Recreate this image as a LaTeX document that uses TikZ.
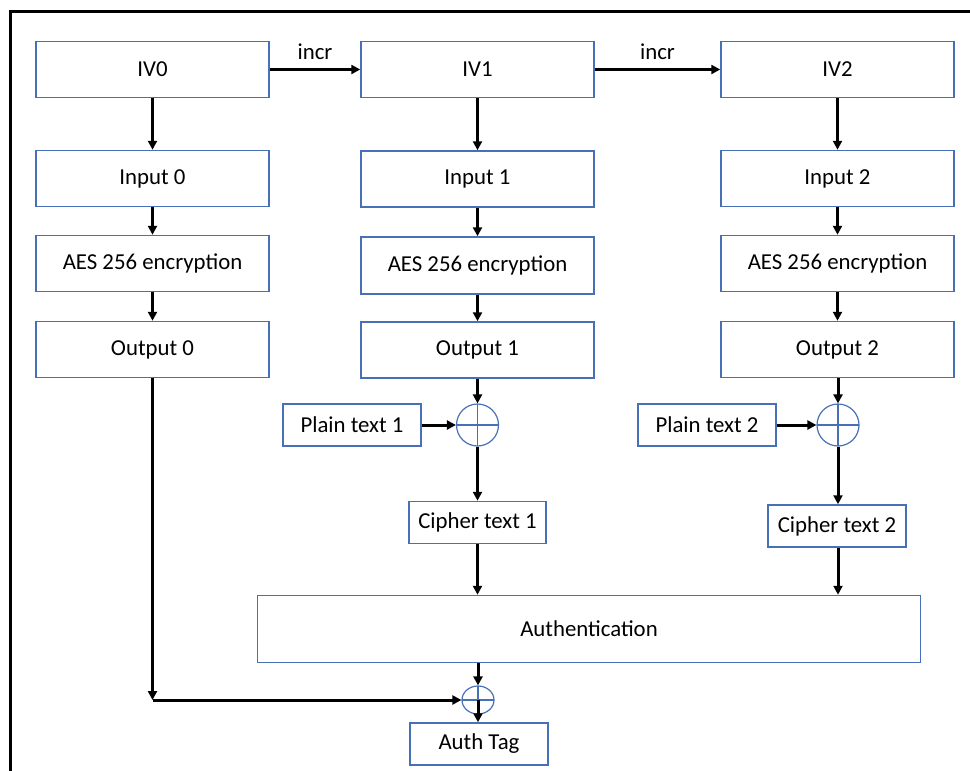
\documentclass[tikz,border=0pt]{standalone}
\usepackage{fontspec}
\setmainfont{Carlito}
\usepackage{tikz}
\usetikzlibrary{shapes.geometric}
\usetikzlibrary{arrows.meta}
\definecolor{boxblue}{RGB}{72,112,184}

\begin{document}
\begin{tikzpicture}[x=0.5pt,y=-0.5pt,
	blk/.style={draw=boxblue,line width=0.75pt,minimum width=116.5pt,minimum height=28pt,inner sep=0pt,font=\fontsize{11.4}{13}\selectfont},
	txt/.style={blk,minimum width=69pt,minimum height=21pt},
	xorc/.style={circle,draw=boxblue,line width=0.6pt,minimum size=21pt,inner sep=0pt,
		path picture={\draw[boxblue,line width=0.6pt] (path picture bounding box.north) -- (path picture bounding box.south) (path picture bounding box.west) -- (path picture bounding box.east);}},
	flow/.style={-{Triangle[length=4.5pt,width=4.5pt]},line width=1.5pt}]
	\useasboundingbox (0,0) rectangle (970,771);
	\draw[line width=1.5pt] (10,771) |- (970,11);

	\node [blk] (iv0) at (152.5,69.5) {IV0};
	\node [blk] (in0) at (152.5,178.5) {Input 0};
	\node [blk] (aes0) at (152.5,263.5) {AES 256 encryption};
	\node [blk] (out0) at (152.5,349.5) {Output 0};

	\node [blk] (iv1) at (477.5,69.5) {IV1};
	\node [blk] (in1) at (477.5,179) {Input 1};
	\node [blk,minimum height=28.5pt] (aes1) at (477.5,265.5) {AES 256 encryption};
	\node [blk] (out1) at (477.5,350) {Output 1};

	\node [blk] (iv2) at (837.5,69.5) {IV2};
	\node [blk] (in2) at (837.5,178.5) {Input 2};
	\node [blk] (aes2) at (837.5,263.5) {AES 256 encryption};
	\node [blk] (out2) at (837.5,349.5) {Output 2};

	\node [txt] (plain1) at (352,425) {Plain text 1};
	\node [xorc] (xor1) at (477.5,425) {};
	\node [txt,minimum width=68.5pt] (cipher1) at (477.5,522.5) {Cipher text 1};

	\node [txt] (plain2) at (707,425) {Plain text 2};
	\node [xorc] (xor2) at (838,425) {};
	\node [txt] (cipher2) at (837,526) {Cipher text 2};

	\node [blk,minimum width=331.5pt,minimum height=33.5pt] (auth) at (589,629) {Authentication};
	\node [xorc,ellipse,minimum width=16pt,minimum height=14pt] (xor3) at (478,700) {};
	\node [txt] (tag) at (479,744) {Auth Tag};
	\coordinate (bend) at (152.5,700);

	\draw [flow] (iv0) -- node [above=1pt,font=\fontsize{11.4}{13}\selectfont] {incr} (iv1);
	\draw [flow] (iv1) -- node [above=1pt,font=\fontsize{11.4}{13}\selectfont] {incr} (iv2);
	\draw [flow] (iv0) -- (in0);
	\draw [flow] (in0) -- (aes0);
	\draw [flow] (aes0) -- (out0);
	\draw [flow] (iv1) -- (in1);
	\draw [flow] (in1) -- (aes1);
	\draw [flow] (aes1) -- (out1);
	\draw [flow] (iv2) -- (in2);
	\draw [flow] (in2) -- (aes2);
	\draw [flow] (aes2) -- (out2);

	\draw [flow] (out1.south -| xor1) -- (xor1);
	\draw [flow] (plain1) -- (xor1);
	\draw [flow] (xor1) -- (cipher1.north -| xor1);
	\draw [flow] (cipher1.south -| xor1) -- (auth.north -| xor1);

	\draw [flow] (out2.south -| xor2) -- (xor2);
	\draw [flow] (plain2) -- (xor2);
	\draw [flow] (xor2) -- (cipher2.north -| xor2);
	\draw [flow] (cipher2.south -| xor2) -- (auth.north -| xor2);

	\draw [flow] (auth.south -| xor3) -- (xor3);
	\draw [flow] (out0) -- (bend);
	\draw [flow] (bend) -- (xor3);
	\draw [flow] (xor3.center) -- (tag.north -| xor3);
\end{tikzpicture}
\end{document}
